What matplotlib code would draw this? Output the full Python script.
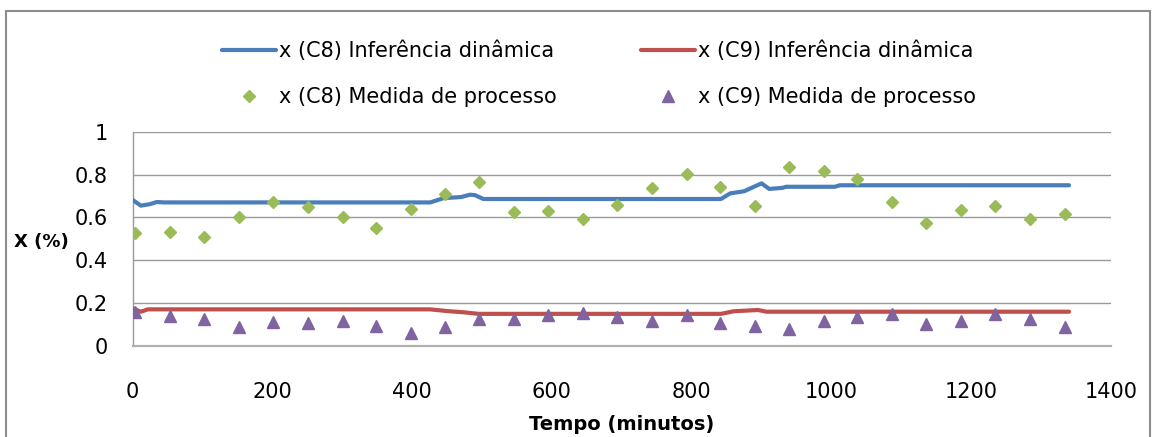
import matplotlib
matplotlib.use("Agg")
import matplotlib.pyplot as plt
from matplotlib.patches import Rectangle

# Dynamic inference (soft sensor) output, breakpoints of the trace
t_inf_c8 = [0, 12, 25, 35, 45, 426, 445, 470, 483, 490, 502, 842, 855, 875, 900,
            911, 930, 935, 1005, 1012, 1340]
x_inf_c8 = [0.682, 0.655, 0.662, 0.672, 0.670, 0.670, 0.690, 0.695, 0.706, 0.704,
            0.686, 0.686, 0.712, 0.722, 0.759, 0.733, 0.738, 0.743, 0.743, 0.750, 0.750]

t_inf_c9 = [0, 12, 22, 426, 450, 475, 495, 842, 860, 895, 907, 1340]
x_inf_c9 = [0.176, 0.160, 0.171, 0.171, 0.163, 0.157, 0.150, 0.150, 0.162, 0.168,
            0.160, 0.160]

# Laboratory / process measurements
t_med = [4, 53, 103, 153, 201, 251, 301, 349, 399, 447, 496, 546, 594, 644, 693,
         743, 793, 841, 890, 940, 989, 1037, 1087, 1136, 1186, 1234, 1284, 1334]
x_med_c8 = [0.526, 0.532, 0.510, 0.603, 0.673, 0.647, 0.603, 0.552, 0.641, 0.709,
            0.764, 0.624, 0.630, 0.593, 0.659, 0.737, 0.804, 0.743, 0.653, 0.834,
            0.817, 0.779, 0.672, 0.575, 0.636, 0.653, 0.593, 0.617]
x_med_c9 = [0.160, 0.141, 0.124, 0.087, 0.112, 0.106, 0.118, 0.093, 0.062, 0.087,
            0.124, 0.124, 0.143, 0.156, 0.137, 0.118, 0.143, 0.106, 0.095, 0.078,
            0.115, 0.137, 0.149, 0.103, 0.118, 0.149, 0.124, 0.087]

x_ticks = [0, 200, 400, 600, 800, 1000, 1200, 1400]
y_ticks = [0, 0.2, 0.4, 0.6, 0.8, 1.0]
y_tick_labels = ["0", "0.2", "0.4", "0.6", "0.8", "1"]

labels = ["x (C8) Inferência dinâmica", "x (C9) Inferência dinâmica",
          "x (C8) Medida de processo", "x (C9) Medida de processo"]

BLUE, RED, GREEN, PURPLE = "#4a7ebb", "#c0504d", "#9bbb59", "#8064a2"
GRID = "#9a9a9a"

W, H = 1153, 437
fig = plt.figure(figsize=(W / 100, H / 100), dpi=100)
ax = fig.add_axes([132.5 / W, 1 - 346 / H, (1111 - 132.5) / W, (346 - 131.7) / H])

l1, = ax.plot(t_inf_c8, x_inf_c8, color=BLUE, lw=3.0, solid_capstyle="round",
              solid_joinstyle="round", zorder=3)
l2, = ax.plot(t_inf_c9, x_inf_c9, color=RED, lw=3.0, solid_capstyle="round",
              solid_joinstyle="round", zorder=3)
m1, = ax.plot(t_med, x_med_c8, ls="none", marker="D", ms=6.5, color=GREEN, zorder=4)
m2, = ax.plot(t_med, x_med_c9, ls="none", marker="^", ms=8.8, color=PURPLE, zorder=5)

ax.set_xlim(0, 1400)
ax.set_ylim(0, 1)
ax.set_xticks(x_ticks)
ax.set_xticklabels([str(v) for v in x_ticks])
ax.set_yticks(y_ticks)
ax.set_yticklabels(y_tick_labels)
ax.tick_params(axis="both", length=0, labelsize=15, colors="#000000")
ax.tick_params(axis="x", pad=26)
ax.tick_params(axis="y", pad=18)

ax.grid(axis="y", color=GRID, lw=1.0)
ax.set_axisbelow(True)
for side in ("top", "right"):
    ax.spines[side].set_visible(False)
ax.spines["left"].set_color(GRID)
ax.spines["left"].set_linewidth(1.0)
ax.spines["bottom"].set_color("#b0b0b0")
ax.spines["bottom"].set_linewidth(1.6)

fig.text(622 / W, 1 - 425 / H, "Tempo (minutos)", fontsize=14, fontweight="bold",
         ha="center", va="center")
fig.text(41 / W, 1 - 242 / H, "X (%)", fontsize=13, fontweight="bold",
         ha="center", va="center")

leg = fig.legend([l1, m1, l2, m2], [labels[0], labels[2], labels[1], labels[3]],
                 ncol=2, loc="center", bbox_to_anchor=(599 / W, 1 - 74 / H),
                 frameon=False, fontsize=15, handlelength=2.6, handletextpad=0.15,
                 columnspacing=4.0, labelspacing=1.25, borderpad=0)

# outer chart frame
fig.patches.append(Rectangle((6 / W, -0.05), (1150 - 6) / W, 1.05 - 11 / H,
                             transform=fig.transFigure, fill=False,
                             edgecolor="#8c8c8c", lw=1.5))

fig.savefig("out.png", dpi=100)
